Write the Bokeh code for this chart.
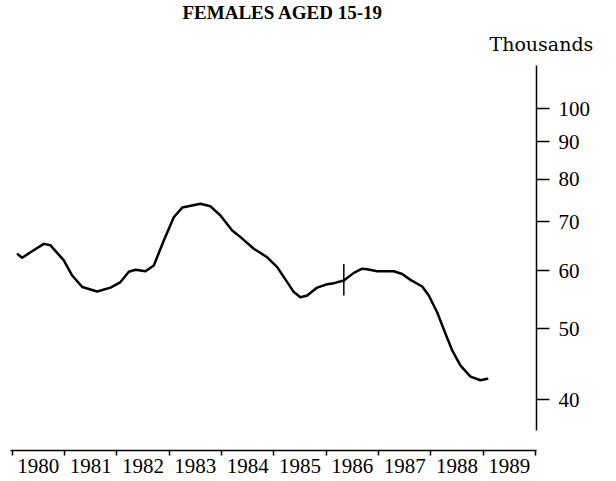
from bokeh.plotting import figure
from bokeh.models import Range1d, FixedTicker, Title, PrintfTickFormatter
from bokeh.embed import file_html
from bokeh.resources import INLINE

# Data (thousands, log scale)
years = [1980.107, 1980.191, 1980.350, 1980.604, 1980.732, 1980.986, 1981.147, 1981.338,
         1981.624, 1981.878, 1982.070, 1982.228, 1982.356, 1982.547, 1982.706, 1982.897,
         1983.088, 1983.249, 1983.598, 1983.789, 1983.980, 1984.204, 1984.363, 1984.617,
         1984.873, 1985.064, 1985.255, 1985.381, 1985.509, 1985.637, 1985.828, 1986.020,
         1986.146, 1986.337, 1986.528, 1986.688, 1986.784, 1986.975, 1987.292, 1987.453,
         1987.611, 1987.835, 1987.961, 1988.122, 1988.280, 1988.408, 1988.567, 1988.758,
         1988.949, 1989.077]
thousands = [63.2, 62.5, 63.6, 65.3, 65.0, 62.0, 59.1, 57.0,
             56.2, 56.9, 57.9, 59.8, 60.2, 59.9, 61.0, 66.0,
             71.0, 73.2, 74.1, 73.5, 71.4, 68.1, 66.7, 64.3,
             62.6, 60.7, 57.9, 56.1, 55.2, 55.5, 56.9, 57.5,
             57.7, 58.2, 59.6, 60.4, 60.3, 59.9, 59.9, 59.4,
             58.3, 57.1, 55.5, 52.6, 49.2, 46.7, 44.5, 43.0,
             42.5, 42.7]

# vertical break marker
marker_year = [1986.337]
marker_low = [55.5]
marker_high = [61.3]

year_ticks = list(range(1980, 1991))
year_labels = [str(y) for y in range(1980, 1990)]
year_label_pos = [y + 0.5 for y in range(1980, 1990)]
value_ticks = [40, 50, 60, 70, 80, 90, 100]

title_text = "FEMALES AGED 15-19"
unit_text = "Thousands"

p = figure(width=610, height=478, y_axis_type="log", y_axis_location="right",
           x_range=Range1d(1979.9675, 1990.019), y_range=Range1d(34.07, 114.5),
           output_backend="svg", toolbar_location=None,
           min_border_left=10, min_border_right=74, min_border_top=65, min_border_bottom=28)
p.outline_line_color = None
p.xgrid.visible = False
p.ygrid.visible = False
p.background_fill_color = "white"
p.border_fill_color = "white"

# main title (outermost)
p.title.text = title_text
p.title.align = "left"
p.title.offset = 172
p.title.standoff = -4
p.title.text_font = "Liberation Serif"
p.title.text_font_style = "bold"
p.title.text_font_size = "19px"
p.title.text_color = "black"

# unit label, nearest the frame
p.add_layout(Title(text=unit_text, align="left", offset=479, standoff=21,
                   text_font="DejaVu Serif", text_font_style="normal",
                   text_font_size="19px", text_color="black"), "above")

# x axis: ticks at year boundaries, labels centred on years
xa = p.xaxis[0]
xa.ticker = FixedTicker(ticks=year_label_pos, minor_ticks=year_ticks)
xa.major_label_overrides = {pos: lab for pos, lab in zip(year_label_pos, year_labels)}
xa.major_tick_line_color = None
xa.major_tick_out = 0
xa.major_tick_in = 0
xa.minor_tick_out = 5
xa.minor_tick_in = 0
xa.minor_tick_line_color = "black"
xa.minor_tick_line_width = 1.5
xa.axis_line_color = "black"
xa.axis_line_width = 1.5
xa.major_label_standoff = 3
xa.major_label_text_font = "Liberation Serif"
xa.major_label_text_font_size = "21px"
xa.major_label_text_color = "black"

ya = p.yaxis[0]
ya.ticker = FixedTicker(ticks=value_ticks, minor_ticks=[])
ya.formatter = PrintfTickFormatter(format="%d")
ya.bounds = (36.3, 114.5)
ya.axis_line_color = "black"
ya.axis_line_width = 1.5
ya.major_tick_out = 13
ya.major_tick_in = 0
ya.major_tick_line_width = 1.5
ya.major_tick_line_color = "black"
ya.minor_tick_line_color = None
ya.major_label_standoff = 9
ya.major_label_text_font = "Liberation Serif"
ya.major_label_text_font_size = "21px"
ya.major_label_text_color = "black"

p.line(years, thousands, line_width=2.5, line_color="black", line_join="round", line_cap="round")
p.segment(x0=marker_year, y0=marker_low, x1=marker_year, y1=marker_high,
          line_width=1.5, line_color="black")

open("out.html", "w").write(file_html(p, INLINE))
